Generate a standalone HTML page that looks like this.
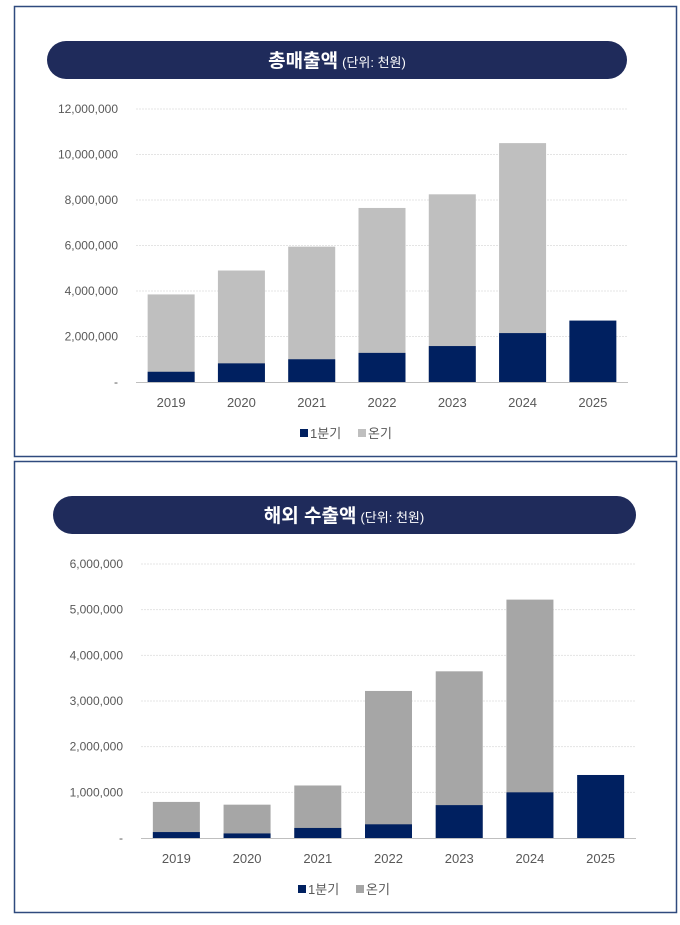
<!DOCTYPE html>
<html><head><meta charset="utf-8">
<style>
html,body{margin:0;padding:0;background:#fff;width:680px;height:925px;overflow:hidden;}
svg{display:block;font-family:"Liberation Sans","Noto Sans CJK KR",sans-serif;}
</style></head>
<body>
<svg id="root" width="680" height="925" viewBox="0 0 680 925">
  <rect x="14.5" y="6.5" width="662" height="450" fill="#fff" stroke="#2f4a7e" stroke-width="1.5"/>
  <rect x="47" y="41" width="580" height="38" rx="19" fill="#1f2b5b"/>
  <text x="337" y="67" text-anchor="middle" fill="#fff"><tspan font-size="19" font-weight="bold">총매출액</tspan><tspan font-size="13" dx="4">(단위: 천원)</tspan></text>
  <g id="c1"></g>

  <rect x="14.5" y="461.5" width="662" height="451" fill="#fff" stroke="#2f4a7e" stroke-width="1.5"/>
  <rect x="53" y="496" width="583" height="38" rx="19" fill="#1f2b5b"/>
  <text x="344" y="522" text-anchor="middle" fill="#fff"><tspan font-size="19" font-weight="bold">해외 수출액</tspan><tspan font-size="13" dx="4">(단위: 천원)</tspan></text>
  <g id="c2"></g>
</svg>
<script>
const years = ["2019","2020","2021","2022","2023","2024","2025"];
const salesQ1 = [450000, 820000, 1000000, 1280000, 1580000, 2150000, 2700000];
const salesFull = [3850000, 4900000, 5950000, 7650000, 8250000, 10500000, null];
const salesTicks = [0, 2000000, 4000000, 6000000, 8000000, 10000000, 12000000];
const exportQ1 = [130000, 100000, 220000, 300000, 720000, 1000000, 1380000];
const exportFull = [790000, 730000, 1150000, 3220000, 3650000, 5220000, null];
const exportTicks = [0, 1000000, 2000000, 3000000, 4000000, 5000000, 6000000];

const NS = "http://www.w3.org/2000/svg";
function mk(parent, tag, attrs){
  const e = document.createElementNS(NS, tag);
  for (const k in attrs) e.setAttribute(k, attrs[k]);
  parent.appendChild(e);
  return e;
}
function fmt(v){ return v === 0 ? "-" : v.toLocaleString("en-US"); }

function drawChart(gid, prefix, q1, full, ticks, cfg){
  const g = document.getElementById(gid);
  const maxV = ticks[ticks.length-1];
  const y = v => cfg.y0 - (v / maxV) * (cfg.y0 - cfg.yTop);
  const step = (cfg.x1 - cfg.x0) / years.length;
  const xc = i => cfg.x0 + step * (i + 0.5);
  ticks.forEach(t => {
    if (t > 0) {
      const ln = mk(g, "line", {x1:cfg.x0, x2:cfg.x1, y1:y(t), y2:y(t), stroke:"#e4e4e4", "stroke-width":1, "stroke-dasharray":"2,1"});
      
      
    }
    const tx = mk(g, "text", {x:cfg.x0 - 18, y:y(t) + 4, "text-anchor":"end", "font-size":12, fill:"#595959"});
    tx.textContent = fmt(t);
    
    
  });
  years.forEach((yr, i) => {
    if (full[i] != null) {
      const r = mk(g, "rect", {x:xc(i)-cfg.bw/2, y:y(full[i]), width:cfg.bw, height:y(0)-y(full[i]), fill:cfg.gray});
      
      
    }
    const r2 = mk(g, "rect", {x:xc(i)-cfg.bw/2, y:y(q1[i]), width:cfg.bw, height:y(0)-y(q1[i]), fill:"#002060"});
    
    
    const lb = mk(g, "text", {x:xc(i), y:cfg.y0 + 25, "text-anchor":"middle", "font-size":13, fill:"#595959"});
    lb.textContent = yr;
    
    
  });
  const ax = mk(g, "line", {x1:cfg.x0, x2:cfg.x1, y1:cfg.y0+0.5, y2:cfg.y0+0.5, stroke:"#bfbfbf", "stroke-width":1});
  
  
  const ly = cfg.y0 + 56;
  const s1 = mk(g, "rect", {x:cfg.lx, y:ly-9, width:8, height:8, fill:"#002060"});
  
  
  const t1 = mk(g, "text", {x:cfg.lx+10, y:ly, "font-size":13, fill:"#595959"});
  t1.textContent = "1분기";
  
  
  const s2 = mk(g, "rect", {x:cfg.lx+58, y:ly-9, width:8, height:8, fill:cfg.gray});
  
  
  const t2 = mk(g, "text", {x:cfg.lx+68, y:ly, "font-size":13, fill:"#595959"});
  t2.textContent = "온기";
  
  
}
drawChart("c1", "sales", salesQ1, salesFull, salesTicks, {x0:136, x1:628, y0:382, yTop:109, bw:47, gray:"#bfbfbf", lx:300});
drawChart("c2", "export", exportQ1, exportFull, exportTicks, {x0:141, x1:636, y0:838, yTop:564, bw:47, gray:"#a6a6a6", lx:298});
</script>
</body></html>
